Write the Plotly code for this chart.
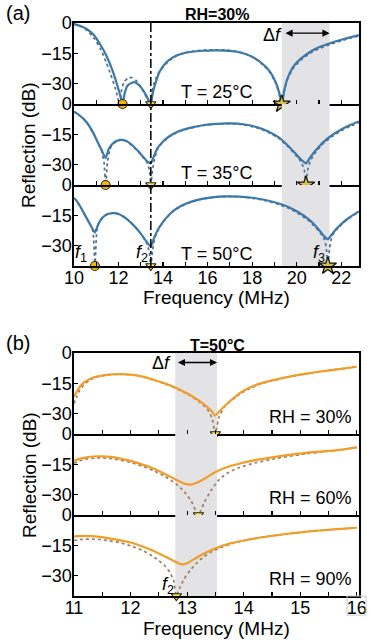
import plotly.graph_objects as go

# ---------------- DATA ----------------
# Panel (a): RH = 30 %, three temperatures (frequency MHz, reflection dB)
a25_sol_f = [10.0, 10.3, 10.6, 10.9, 11.2, 11.45, 11.75, 11.95, 12.1, 12.18, 12.28, 12.4, 12.6, 12.75, 12.95, 13.15, 13.3, 13.45,
             13.55, 13.68, 13.85, 14.1, 14.4, 14.8, 15.3, 15.8, 16.3, 16.8, 17.3, 17.7, 18.1, 18.5, 18.8, 19.05, 19.22, 19.33,
             19.45, 19.6, 19.85, 20.2, 20.6, 21.0, 21.5, 22.0, 22.4, 22.8]
a25_sol_r = [-0.5, -1.5, -3.2, -6.0, -11.0, -16.0, -24.0, -31.0, -36.5, -40.0, -34.5, -31.0, -29.5, -29.3, -31.0, -34.0, -37.0, -40.0,
             -34.0, -29.0, -24.0, -20.0, -17.2, -15.3, -14.2, -13.7, -13.5, -13.6, -14.2, -15.3, -17.3, -20.5, -24.0, -29.0, -34.5, -40.0,
             -33.0, -27.0, -21.5, -17.5, -14.3, -12.0, -10.0, -8.3, -7.1, -6.0]
a25_dot_f = [10.0, 10.3, 10.6, 10.9, 11.2, 11.45, 11.65, 11.85, 11.97, 12.03, 12.12, 12.25, 12.45, 12.6, 12.8, 13.0, 13.2, 13.42,
             13.5, 13.62, 13.8, 14.1, 14.4, 14.8, 15.3, 15.8, 16.3, 16.8, 17.3, 17.7, 18.1, 18.5, 18.8, 19.05, 19.22, 19.33,
             19.45, 19.6, 19.85, 20.2, 20.6, 21.0, 21.5, 22.0, 22.4, 22.8]
a25_dot_r = [-0.5, -1.7, -3.8, -7.5, -13.0, -19.5, -25.5, -32.0, -37.0, -40.0, -34.0, -29.0, -27.0, -27.0, -28.5, -31.5, -35.5, -40.0,
             -34.0, -29.0, -24.5, -20.5, -17.5, -15.2, -14.0, -13.4, -13.2, -13.3, -14.0, -15.2, -17.3, -20.8, -24.5, -29.5, -35.0, -40.0,
             -33.0, -27.5, -22.3, -18.2, -15.0, -12.7, -10.6, -8.8, -7.5, -6.4]

a35_sol_f = [10.0, 10.2, 10.4, 10.6, 10.85, 11.05, 11.25, 11.42, 11.55, 11.7, 11.9, 12.1, 12.3, 12.5, 12.7, 12.9, 13.1, 13.3, 13.45,
             13.58, 13.75, 14.0, 14.3, 14.7, 15.2, 15.8, 16.4, 17.0, 17.6, 18.2, 18.7, 19.2, 19.6, 19.95, 20.2, 20.42,
             20.6, 20.85, 21.2, 21.6, 22.0, 22.4, 22.8]
a35_sol_r = [-3.8, -5.2, -7.0, -9.5, -14.0, -18.5, -23.0, -26.7, -22.5, -20.0, -18.3, -17.7, -18.0, -19.3, -21.2, -23.5, -26.0, -28.5, -29.3,
             -26.0, -21.8, -18.5, -15.8, -13.5, -11.8, -10.5, -9.8, -9.6, -10.0, -11.4, -13.4, -16.5, -20.5, -24.5, -27.5, -29.3,
             -26.5, -23.0, -18.8, -15.3, -12.6, -10.4, -8.6]
a35_dot_f = [10.0, 10.2, 10.4, 10.6, 10.85, 11.05, 11.25, 11.35, 11.42, 11.5, 11.6, 11.7, 11.9, 12.1, 12.3, 12.5, 12.7, 12.9, 13.1, 13.3,
             13.39, 13.45, 13.52, 13.62, 13.75, 14.0, 14.3, 14.7, 15.2, 15.8, 16.4, 17.0, 17.6, 18.2, 18.7, 19.2, 19.6, 19.95, 20.2,
             20.35, 20.42, 20.5, 20.62, 20.85, 21.2, 21.6, 22.0, 22.4, 22.8]
a35_dot_r = [-3.8, -5.2, -7.0, -9.5, -14.0, -18.5, -23.5, -29.0, -40.0, -29.0, -23.0, -20.3, -18.5, -17.9, -18.2, -19.5, -21.5, -23.8, -26.3, -29.3,
             -33.0, -40.0, -33.0, -27.0, -22.3, -18.8, -16.0, -13.7, -12.0, -10.6, -9.9, -9.7, -10.2, -11.7, -13.8, -17.0, -21.0, -25.2, -28.5,
             -33.0, -40.0, -32.5, -28.0, -23.8, -19.5, -16.0, -13.2, -11.0, -9.2]

a50_sol_f = [10.0, 10.15, 10.3, 10.5, 10.7, 10.85, 10.94, 11.05, 11.2, 11.4, 11.6, 11.8, 12.0, 12.25, 12.5, 12.75, 13.0, 13.25, 13.45,
             13.6, 13.8, 14.05, 14.35, 14.7, 15.1, 15.6, 16.2, 16.8, 17.4, 18.0, 18.6, 19.2, 19.7, 20.1, 20.5, 20.8, 21.05, 21.25, 21.4,
             21.55, 21.8, 22.1, 22.4, 22.8]
a50_sol_r = [-6.4, -8.3, -11.0, -15.0, -19.0, -22.0, -23.5, -20.5, -17.2, -15.0, -14.1, -13.9, -14.3, -15.8, -18.0, -20.7, -24.0, -27.8, -30.5,
             -26.0, -21.5, -17.5, -13.8, -11.0, -8.9, -7.2, -6.1, -5.6, -5.7, -6.3, -7.4, -9.1, -11.2, -13.6, -16.6, -19.6, -22.8, -25.5, -26.8,
             -24.8, -21.5, -18.3, -15.8, -13.0]
a50_dot_f = [10.0, 10.15, 10.3, 10.5, 10.7, 10.85, 10.94, 11.02, 11.1, 11.2, 11.4, 11.6, 11.8, 12.0, 12.25, 12.5, 12.75, 13.0, 13.25, 13.38,
             13.45, 13.52, 13.62, 13.8, 14.05, 14.35, 14.7, 15.1, 15.6, 16.2, 16.8, 17.4, 18.0, 18.6, 19.2, 19.7, 20.1, 20.5, 20.8, 21.05,
             21.25, 21.33, 21.4, 21.48, 21.6, 21.8, 22.1, 22.4, 22.8]
a50_dot_r = [-6.4, -8.3, -11.0, -15.0, -19.0, -23.0, -40.0, -23.0, -19.0, -17.2, -15.0, -14.1, -13.9, -14.3, -15.8, -18.0, -20.7, -24.0, -28.5, -33.0,
             -40.0, -33.0, -26.5, -21.7, -17.7, -14.0, -11.2, -9.1, -7.3, -6.2, -5.7, -5.8, -6.5, -7.7, -9.6, -11.8, -14.3, -17.3, -20.3, -23.5,
             -27.0, -31.0, -40.0, -31.0, -25.0, -22.0, -18.7, -16.1, -13.2]

# Panel (b): T = 50 degC, three humidities
b30_sol_f = [11.0, 11.05, 11.1, 11.18, 11.28, 11.4, 11.55, 11.7, 11.85, 12.0, 12.15, 12.3, 12.45, 12.6, 12.75, 12.9, 13.05, 13.2, 13.32,
             13.42, 13.5, 13.58, 13.68, 13.8, 13.95, 14.1, 14.3, 14.5, 14.75, 15.0, 15.3, 15.6, 15.8, 16.0]
b30_sol_r = [-21.6, -19.0, -16.8, -14.5, -12.8, -11.7, -10.9, -10.5, -10.4, -10.7, -11.3, -12.3, -13.6, -15.0, -16.6, -18.5, -20.7, -23.3, -25.8,
             -28.3, -30.9, -28.5, -25.8, -22.8, -19.5, -17.2, -15.0, -13.5, -12.0, -10.7, -9.4, -8.3, -7.6, -6.8]
b30_dot_f = [11.0, 11.05, 11.1, 11.18, 11.28, 11.4, 11.55, 11.7, 11.85, 12.0, 12.15, 12.3, 12.45, 12.6, 12.75, 12.9, 13.05, 13.2, 13.35,
             13.44, 13.5, 13.56, 13.65, 13.75, 13.95, 14.1, 14.3, 14.5, 14.75, 15.0, 15.3, 15.6, 15.8, 16.0]
b30_dot_r = [-25.0, -21.5, -18.5, -15.5, -13.3, -11.9, -11.0, -10.6, -10.5, -10.8, -11.4, -12.4, -13.7, -15.1, -16.8, -18.8, -21.0, -23.8, -27.5,
             -32.0, -40.0, -32.0, -27.0, -24.2, -20.0, -17.7, -15.3, -13.7, -12.1, -10.7, -9.4, -8.2, -7.5, -6.6]

b60_sol_f = [11.0, 11.1, 11.22, 11.35, 11.5, 11.65, 11.8, 12.0, 12.2, 12.4, 12.6, 12.8, 12.95, 13.05, 13.15, 13.3, 13.5, 13.7, 13.9,
             14.2, 14.5, 14.8, 15.1, 15.4, 15.7, 16.0]
b60_sol_r = [-13.2, -12.2, -11.5, -11.1, -11.0, -11.3, -12.0, -13.3, -15.0, -17.0, -19.6, -22.5, -24.5, -25.0, -24.3, -22.2, -18.8, -16.4, -14.8,
             -12.9, -11.5, -10.3, -9.3, -8.6, -7.8, -6.6]
b60_dot_f = [11.0, 11.1, 11.22, 11.35, 11.5, 11.65, 11.8, 12.0, 12.2, 12.4, 12.6, 12.8, 12.95, 13.07, 13.2, 13.3, 13.42, 13.55, 13.7, 13.9,
             14.2, 14.5, 14.8, 15.1, 15.4, 15.7, 16.0]
b60_dot_r = [-14.5, -13.2, -12.3, -11.9, -11.8, -12.1, -12.8, -14.0, -15.8, -18.0, -20.8, -24.5, -28.5, -33.0, -40.0, -34.0, -28.0, -23.0, -19.5, -16.8,
             -14.3, -12.5, -11.0, -9.8, -8.8, -7.9, -6.6]

b90_sol_f = [11.0, 11.15, 11.3, 11.45, 11.6, 11.8, 12.0, 12.2, 12.4, 12.6, 12.75, 12.85, 12.93, 13.0, 13.1, 13.25, 13.4, 13.6, 13.8,
             14.0, 14.3, 14.6, 14.9, 15.2, 15.5, 15.8, 16.0]
b90_sol_r = [-10.6, -10.3, -10.4, -10.8, -11.4, -12.4, -13.6, -15.4, -17.6, -20.3, -22.5, -23.9, -24.4, -23.8, -22.2, -19.8, -17.7, -15.4, -13.8,
             -12.6, -11.1, -9.9, -8.9, -8.0, -7.3, -6.7, -6.3]
b90_dot_f = [11.0, 11.15, 11.3, 11.45, 11.6, 11.8, 12.0, 12.2, 12.35, 12.5, 12.62, 12.7, 12.76, 12.81, 12.87, 12.95, 13.05, 13.15, 13.3,
             13.45, 13.6, 13.8, 14.0, 14.3, 14.6, 14.9, 15.2, 15.5, 15.8, 16.0]
b90_dot_r = [-12.6, -12.0, -11.9, -12.1, -12.6, -13.6, -15.2, -17.3, -19.6, -22.5, -25.5, -28.5, -32.0, -40.0, -36.0, -31.5, -27.5, -24.2, -20.5,
             -17.9, -16.0, -14.1, -12.7, -11.1, -9.9, -8.9, -8.0, -7.3, -6.7, -6.3]

# Resonance markers (frequency of each null)
a_f1 = [12.18, 11.42, 10.94]
a_f2 = [13.45, 13.45, 13.45]
a_f3 = [19.33, 20.42, 21.4]
b_f2 = [13.5, 13.2, 12.81]

a_labels = ["T = 25°C", "T = 35°C", "T = 50°C"]
b_labels = ["RH = 30%", "RH = 60%", "RH = 90%"]
a_shade = [19.33, 21.48]
b_shade = [12.79, 13.53]
a_dashdot = 13.45
y_ticks = [0, -15, -30]
y_ticktext = ["0", "−15", "−30"]
a_xticks = [10, 12, 14, 16, 18, 20, 22]
b_xticks = [11, 12, 13, 14, 15, 16]

# ---------------- STYLE / LAYOUT ----------------
W, H = 369, 642
FONT = "Liberation Sans, Arial, sans-serif"
BLUE = "#3c78a9"
BLUE_DOT = "#4f6f96"
ORANGE = "#f29d2a"
BROWN_DOT = "#9c7f62"
GRAY = "#e3e3e5"

def px_x(p):
    return p / W

def px_y(p):
    return 1 - p / H

XL, XR = 74, 359
rows_px = [(23, 104), (104, 185), (185, 266), (353, 434), (434, 515), (515, 596)]

fig = go.Figure()

series = [
    (a25_dot_f, a25_dot_r, a25_sol_f, a25_sol_r),
    (a35_dot_f, a35_dot_r, a35_sol_f, a35_sol_r),
    (a50_dot_f, a50_dot_r, a50_sol_f, a50_sol_r),
    (b30_dot_f, b30_dot_r, b30_sol_f, b30_sol_r),
    (b60_dot_f, b60_dot_r, b60_sol_f, b60_sol_r),
    (b90_dot_f, b90_dot_r, b90_sol_f, b90_sol_r),
]

layout_axes = {}
shapes = []
annotations = []
for i, (df, dr, sf, sr) in enumerate(series):
    k = i + 1
    xa = "x" if k == 1 else f"x{k}"
    ya = "y" if k == 1 else f"y{k}"
    panel_a = i < 3
    dcol = BLUE_DOT if panel_a else BROWN_DOT
    scol = BLUE if panel_a else ORANGE
    fig.add_trace(go.Scatter(x=df, y=dr, mode="lines", xaxis=xa, yaxis=ya,
                             line=dict(color=dcol, width=1.7, dash="dot", shape="spline", smoothing=0.5),
                             showlegend=False, hoverinfo="skip"))
    fig.add_trace(go.Scatter(x=sf, y=sr, mode="lines", xaxis=xa, yaxis=ya,
                             line=dict(color=scol, width=2.2, shape="spline", smoothing=0.5),
                             showlegend=False, hoverinfo="skip"))
    top, bot = rows_px[i]
    bottom_row = (i == 2 or i == 5)
    top_row = (i == 0 or i == 3)
    xkey = "xaxis" if k == 1 else f"xaxis{k}"
    ykey = "yaxis" if k == 1 else f"yaxis{k}"
    xd = dict(
        domain=[px_x(XL), px_x(XR)], anchor=ya, automargin=False,
        range=[10, 22.8] if panel_a else [11, 16.04],
        tickmode="array", tickvals=a_xticks if panel_a else b_xticks,
        ticks="inside", ticklen=4, tickwidth=1.2, tickcolor="black",
        minor=dict(tickmode="linear", tick0=10 if panel_a else 11, dtick=1 if panel_a else 0.5,
                   ticks="inside", ticklen=4, tickwidth=1.2, tickcolor="black", showgrid=False),
        showticklabels=bottom_row, tickfont=dict(size=18, color="black", family=FONT),
        ticklabeloverflow="allow",
        showline=True, linecolor="black", linewidth=1.6, mirror=top_row,
        showgrid=False, zeroline=False,
    )
    if bottom_row:
        xd["ticklabelstandoff"] = -5
    layout_axes[xkey] = xd
    layout_axes[ykey] = dict(
        domain=[px_y(bot), px_y(top)], anchor=xa, automargin=False,
        range=[-40, 0], tickmode="array", tickvals=y_ticks, ticktext=y_ticktext,
        ticks="inside", ticklen=4, tickwidth=1.2, tickcolor="black",
        tickfont=dict(size=18, color="black", family=FONT), ticklabelstandoff=-3,
        showline=True, linecolor="black", linewidth=1.6, mirror=True,
        showgrid=False, zeroline=False,
    )
    shade = a_shade if panel_a else b_shade
    shapes.append(dict(type="rect", xref=xa, yref=ya, x0=shade[0], x1=shade[1], y0=-40, y1=0,
                       fillcolor=GRAY, line=dict(width=0), layer="below"))
    # condition labels
    if panel_a:
        annotations.append(dict(xref="paper", yref="paper", x=px_x(216.5), y=px_y(top + 69),
                                text=a_labels[i], showarrow=False, xanchor="center", yanchor="middle",
                                font=dict(size=18, color="black", family=FONT)))
    else:
        annotations.append(dict(xref="paper", yref="paper", x=px_x(354), y=px_y(top + 64),
                                text=b_labels[i - 3], showarrow=False, xanchor="right", yanchor="middle",
                                font=dict(size=18, color="black", family=FONT)))

# markers
for i in range(3):
    k = i + 1
    xa = "x" if k == 1 else f"x{k}"
    ya = "y" if k == 1 else f"y{k}"
    fig.add_trace(go.Scatter(x=[a_f1[i]], y=[-40], mode="markers", xaxis=xa, yaxis=ya, cliponaxis=False,
                             marker=dict(symbol="circle", size=9, color="#f4b400", line=dict(color="#333", width=1.2)),
                             showlegend=False, hoverinfo="skip"))
    fig.add_trace(go.Scatter(x=[a_f2[i]], y=[-40], mode="markers", xaxis=xa, yaxis=ya, cliponaxis=False,
                             marker=dict(symbol="triangle-down", size=9, color="#ffe34d", line=dict(color="#222", width=1.2)),
                             showlegend=False, hoverinfo="skip"))
    fig.add_trace(go.Scatter(x=[a_f3[i]], y=[-40], mode="markers", xaxis=xa, yaxis=ya, cliponaxis=False,
                             marker=dict(symbol="star", size=13, color="#d9c24a", line=dict(color="#111", width=1.3)),
                             showlegend=False, hoverinfo="skip"))
for i in range(3):
    k = i + 4
    fig.add_trace(go.Scatter(x=[b_f2[i]], y=[-40], mode="markers", xaxis=f"x{k}", yaxis=f"y{k}", cliponaxis=False,
                             marker=dict(symbol="triangle-down", size=9, color="#ffe34d", line=dict(color="#222", width=1.2)),
                             showlegend=False, hoverinfo="skip"))

# dash-dot line in panel (a)
shapes.append(dict(type="line", xref="x", yref="paper", x0=a_dashdot, x1=a_dashdot,
                   y0=px_y(266), y1=px_y(23), line=dict(color="black", width=1.5, dash="dashdot")))
# box around "16"
shapes.append(dict(type="rect", xref="paper", yref="paper", x0=px_x(347), x1=px_x(366),
                   y0=px_y(615), y1=px_y(596), line=dict(color="#c8c8c8", width=1), fillcolor="rgba(0,0,0,0)"))

# Delta f arrows
annotations.append(dict(xref="x", yref="y", axref="x", ayref="y", x=a_shade[1], y=-5, ax=a_shade[0] + 0.1, ay=-5,
                        text="", showarrow=True, arrowhead=2, arrowside="end+start", arrowsize=1.1, arrowwidth=1.3,
                        arrowcolor="black"))
annotations.append(dict(xref="x", yref="y", x=18.9, y=-6, text="Δ<i>f</i>", showarrow=False,
                        xanchor="center", yanchor="middle", font=dict(size=18, color="black", family=FONT)))
annotations.append(dict(xref="x4", yref="y4", axref="x4", ayref="y4", x=b_shade[1], y=-4.7, ax=b_shade[0] + 0.02, ay=-4.7,
                        text="", showarrow=True, arrowhead=2, arrowside="end+start", arrowsize=1.1, arrowwidth=1.3,
                        arrowcolor="black"))
annotations.append(dict(xref="x4", yref="y4", x=12.55, y=-5, text="Δ<i>f</i>", showarrow=False,
                        xanchor="center", yanchor="middle", font=dict(size=18, color="black", family=FONT)))

# f labels
for txt, xp, yp in [("<i>f</i><sub>1</sub>", 81, 254), ("<i>f</i><sub>2</sub>", 141.5, 254),
                    ("<i>f</i><sub>3</sub>", 318.5, 254), ("<i>f</i><sub>2</sub>", 167.5, 585)]:
    annotations.append(dict(xref="paper", yref="paper", x=px_x(xp), y=px_y(yp), text=txt, showarrow=False,
                            xanchor="center", yanchor="middle", font=dict(size=18, color="black", family=FONT)))

# titles, panel letters, axis titles
for txt, xp, yp, sz, bold in [("RH=30%", 216.5, 14, 16, True), ("T=50°C", 217, 346, 16, True),
                              ("(a)", 18, 13, 20, False), ("(b)", 18, 343, 20, False),
                              ("Frequency (MHz)", 216, 297, 19, False), ("Frequency (MHz)", 216, 628, 19, False)]:
    annotations.append(dict(xref="paper", yref="paper", x=px_x(xp), y=px_y(yp),
                            text=f"<b>{txt}</b>" if bold else txt, showarrow=False,
                            xanchor="center", yanchor="middle", font=dict(size=sz, color="black", family=FONT)))
for yp in [145, 475]:
    annotations.append(dict(xref="paper", yref="paper", x=px_x(29), y=px_y(yp), text="Reflection (dB)",
                            showarrow=False, textangle=-90, xanchor="center", yanchor="middle",
                            font=dict(size=19, color="black", family=FONT)))

fig.update_layout(width=W, height=H, autosize=False, margin=dict(l=0, r=0, t=0, b=0, pad=0, autoexpand=False),
                  paper_bgcolor="white", plot_bgcolor="rgba(0,0,0,0)",
                  font=dict(family=FONT, color="black"), hovermode=False,
                  shapes=shapes, annotations=annotations, showlegend=False, **layout_axes)

fig.write_html("out.html", config={"responsive": False, "displayModeBar": False, "staticPlot": True},
               post_script="document.body.style.margin='0';document.body.style.padding='0';")
